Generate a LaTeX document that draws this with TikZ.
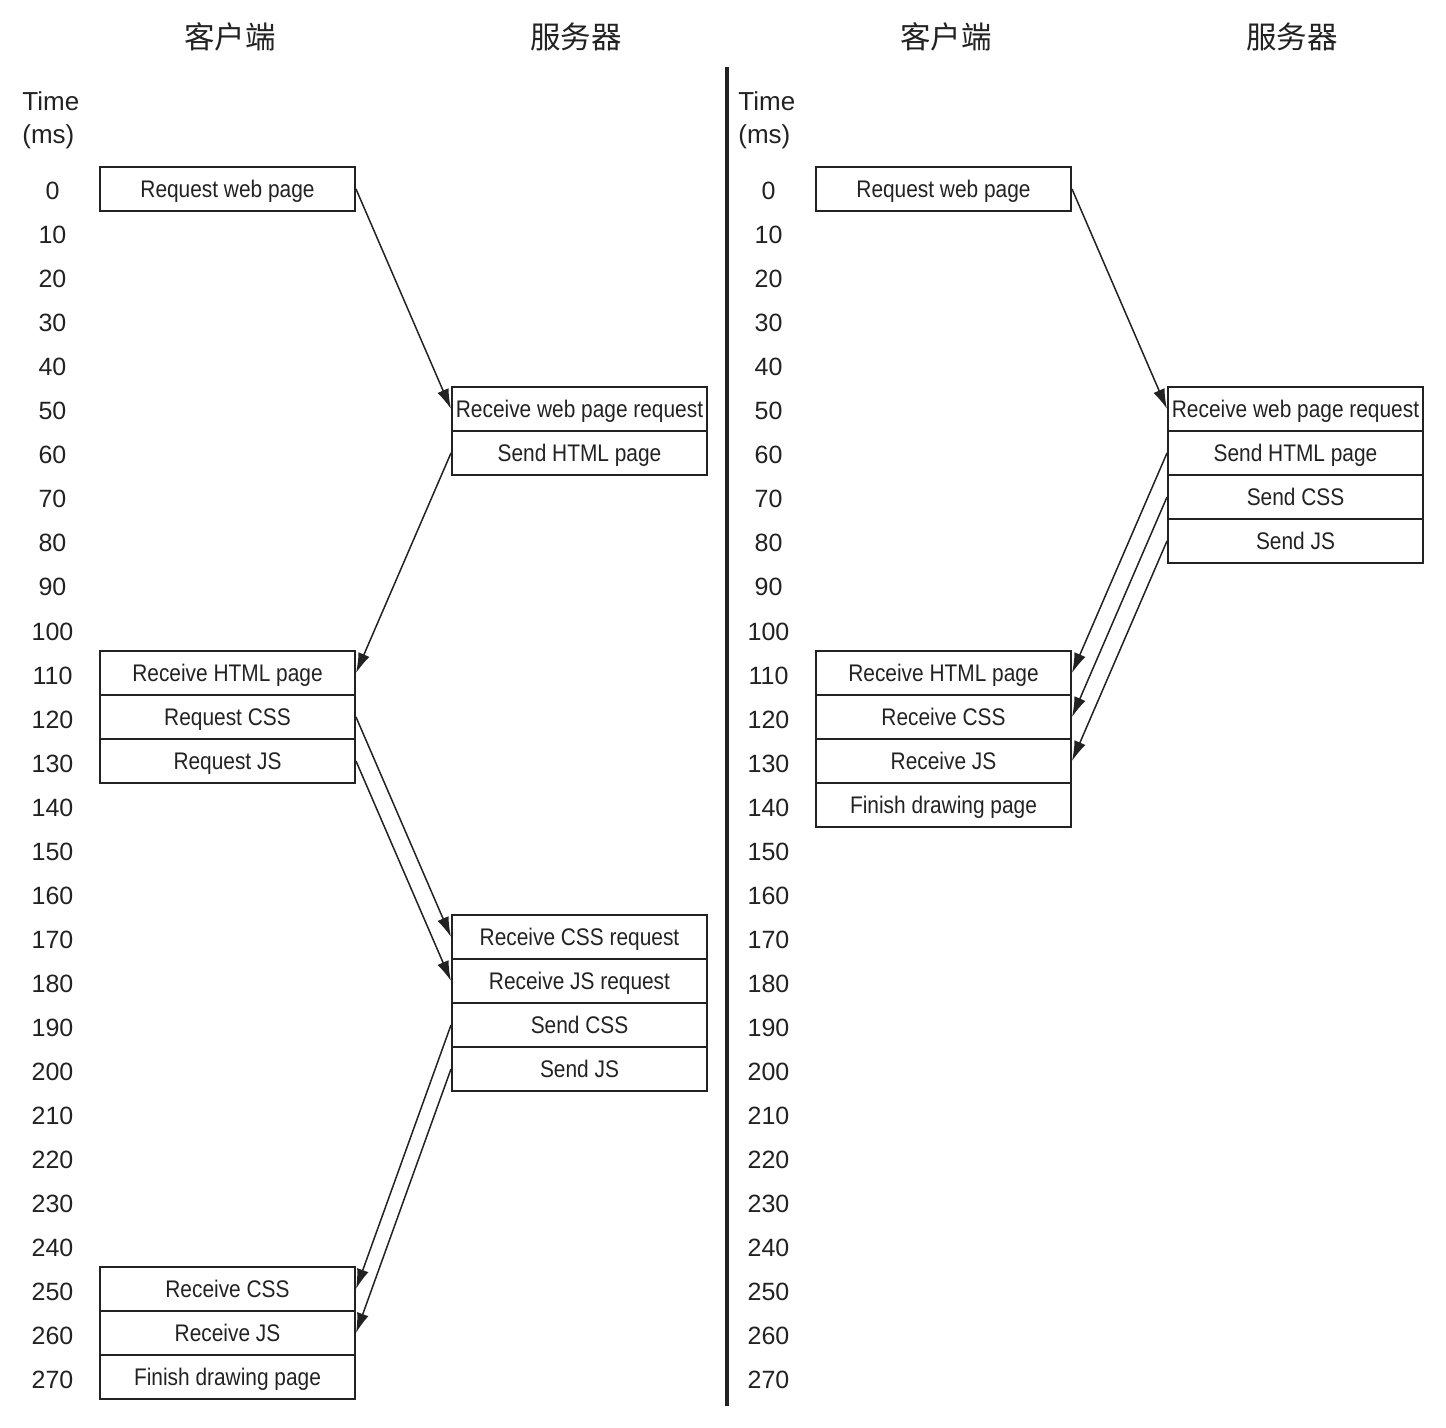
\documentclass[tikz,border=0pt]{standalone}
\usepackage{fontspec}
\setmainfont{Liberation Sans}
\newfontfamily\cjk{Noto Sans CJK SC}
\newfontfamily\boxfont[FakeStretch=0.87]{Liberation Sans}
\usetikzlibrary{arrows.meta}
\definecolor{ink}{HTML}{222222}
\begin{document}
\begin{tikzpicture}[x=0.5pt,y=-0.5pt,
  box/.style={draw=ink, line width=1pt, minimum width=127.5pt, minimum height=22pt,
    inner sep=0pt, text height=8.6pt, text depth=0pt,
    font=\boxfont\fontsize{12}{14}\selectfont, text=ink},
  num/.style={inner sep=0pt, text height=9pt, text depth=0pt,
    font=\fontsize{12.5}{15}\selectfont, text=ink},
  lbl/.style={inner sep=0pt, anchor=base west, font=\fontsize{13}{15}\selectfont, text=ink},
  head/.style={inner sep=0pt, font=\cjk\fontsize{15.25}{18}\selectfont, text=ink},
  msg/.style={draw=ink, line width=0.75pt, -{Latex[length=10pt,width=6pt]}}]
\useasboundingbox (0,0) rectangle (1446,1428);

% headers
\node[head] (hc1) at (230,37) {客户端};
\node[head] (hs1) at (576,37) {服务器};
\node[head] (hc2) at (946,37) {客户端};
\node[head] (hs2) at (1292,37) {服务器};

% time labels
\node[lbl] (tl1) at (22,111) {Time};
\node[lbl] (ml1) at (22,144) {(ms)};
\node[lbl] (tl2) at (738,111) {Time};
\node[lbl] (ml2) at (738,144) {(ms)};

\foreach \t in {0,10,...,270} {
  \node[num] (nl\t) at (52.5,{191+4.4*\t}) {\t};
  \node[num] (nr\t) at (768.5,{191+4.4*\t}) {\t};
}

% divider
\coordinate (dtop) at (727,67);
\coordinate (dbot) at (727,1406);
\draw[ink, line width=2pt] (dtop) -- (dbot);

% left panel
\node[box] (c0) at (227.5,189) {Request web page};
\node[box] (s50) at (579.5,{189+4.4*50}) {Receive web page request};
\node[box] (s60) at (579.5,{189+4.4*60}) {Send HTML page};
\node[box] (c110) at (227.5,{189+4.4*110}) {Receive HTML page};
\node[box] (c120) at (227.5,{189+4.4*120}) {Request CSS};
\node[box] (c130) at (227.5,{189+4.4*130}) {Request JS};
\node[box] (s170) at (579.5,{189+4.4*170}) {Receive CSS request};
\node[box] (s180) at (579.5,{189+4.4*180}) {Receive JS request};
\node[box] (s190) at (579.5,{189+4.4*190}) {Send CSS};
\node[box] (s200) at (579.5,{189+4.4*200}) {Send JS};
\node[box] (c250) at (227.5,{189+4.4*250}) {Receive CSS};
\node[box] (c260) at (227.5,{189+4.4*260}) {Receive JS};
\node[box] (c270) at (227.5,{189+4.4*270}) {Finish drawing page};

\draw[msg] (c0.east) -- (s50.west);
\draw[msg] (s60.west) -- (c110.east);
\draw[msg] (c120.east) -- (s170.west);
\draw[msg] (c130.east) -- (s180.west);
\draw[msg] (s190.west) -- (c250.east);
\draw[msg] (s200.west) -- (c260.east);

% right panel
\node[box] (C0) at (943.5,189) {Request web page};
\node[box] (S50) at (1295.5,{189+4.4*50}) {Receive web page request};
\node[box] (S60) at (1295.5,{189+4.4*60}) {Send HTML page};
\node[box] (S70) at (1295.5,{189+4.4*70}) {Send CSS};
\node[box] (S80) at (1295.5,{189+4.4*80}) {Send JS};
\node[box] (C110) at (943.5,{189+4.4*110}) {Receive HTML page};
\node[box] (C120) at (943.5,{189+4.4*120}) {Receive CSS};
\node[box] (C130) at (943.5,{189+4.4*130}) {Receive JS};
\node[box] (C140) at (943.5,{189+4.4*140}) {Finish drawing page};

\draw[msg] (C0.east) -- (S50.west);
\draw[msg] (S60.west) -- (C110.east);
\draw[msg] (S70.west) -- (C120.east);
\draw[msg] (S80.west) -- (C130.east);
\end{tikzpicture}
\end{document}
